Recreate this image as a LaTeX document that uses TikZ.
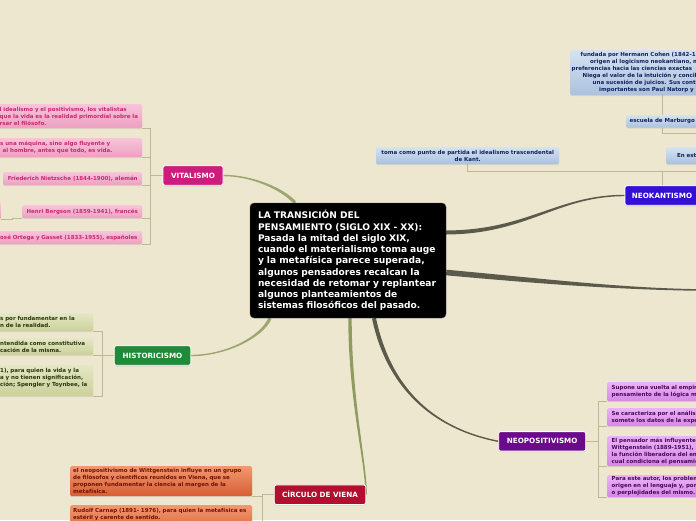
\documentclass[tikz,border=0pt]{standalone}
\usepackage{fontspec}
\setmainfont{DejaVu Sans}
\usetikzlibrary{calc,shadows}
\definecolor{bgc}{RGB}{238,231,208}
\definecolor{brOlive}{RGB}{158,166,112}
\definecolor{brOliveD}{RGB}{142,156,98}
\definecolor{brDark}{RGB}{92,90,74}
\definecolor{treeC}{RGB}{188,186,144}
\definecolor{vitC}{RGB}{204,28,126}
\definecolor{hisC}{RGB}{30,138,58}
\definecolor{cirC}{RGB}{178,14,46}
\definecolor{neoC}{RGB}{108,10,140}
\definecolor{nkC}{RGB}{52,16,214}
\definecolor{pinkT}{RGB}{248,196,218}
\definecolor{pinkB}{RGB}{236,160,192}
\definecolor{pinkX}{RGB}{196,44,116}
\definecolor{grnT}{RGB}{228,231,196}
\definecolor{grnB}{RGB}{202,209,154}
\definecolor{grnX}{RGB}{44,54,12}
\definecolor{orgT}{RGB}{242,152,112}
\definecolor{orgB}{RGB}{214,94,52}
\definecolor{orgX}{RGB}{112,20,2}
\definecolor{vioT}{RGB}{236,178,246}
\definecolor{vioB}{RGB}{214,136,230}
\definecolor{vioX}{RGB}{72,10,92}
\definecolor{bluT}{RGB}{212,226,242}
\definecolor{bluB}{RGB}{170,194,222}
\definecolor{bluX}{RGB}{20,34,90}
\pgfdeclarelayer{bg}
\pgfdeclarelayer{links}
\pgfsetlayers{bg,links,main}
\newcommand{\taperlink}[7]{%
  \path #2 coordinate (tS) #3 coordinate (tA) #4 coordinate (tB) #5 coordinate (tE);
  \coordinate (sL) at ($(tS)!#6!90:(tA)$);
  \coordinate (sR) at ($(tS)!#6!-90:(tA)$);
  \coordinate (eL) at ($(tE)!#7!-90:(tB)$);
  \coordinate (eR) at ($(tE)!#7!90:(tB)$);
  \fill[#1] (sL) .. controls ($(tA)+(sL)-(tS)$) and ($(tB)+(eL)-(tE)$) .. (eL)
    -- (eR) .. controls ($(tB)+(eR)-(tE)$) and ($(tA)+(sR)-(tS)$) .. (sR) -- cycle;
}
\begin{document}
\begin{tikzpicture}[x=1pt,y=-1pt,
  sub/.style={rounded corners=1.5pt, inner xsep=3pt, inner ysep=0pt,
    font=\fontsize{5.5}{7}\selectfont\bfseries,
    drop shadow={shadow xshift=0pt, shadow yshift=-1pt, opacity=0.18}},
  pinkbox/.style={sub, top color=pinkT, bottom color=pinkB, text=pinkX},
  greenbox/.style={sub, top color=grnT, bottom color=grnB, text=grnX},
  orangebox/.style={sub, top color=orgT, bottom color=orgB, text=orgX},
  violetbox/.style={sub, top color=vioT, bottom color=vioB, text=vioX},
  bluebox/.style={sub, top color=bluT, bottom color=bluB, text=bluX},
  topic/.style={rounded corners=2pt, draw=white, line width=0.9pt, text=white,
    inner sep=0pt, minimum height=19.5pt, font=\fontsize{7.2}{8}\selectfont\bfseries,
    drop shadow={shadow xshift=0pt, shadow yshift=-1pt, opacity=0.3}},
  tree/.style={draw=treeC, line width=0.9pt},
]
\useasboundingbox (0,0) rectangle (696,520);
\begin{pgfonlayer}{bg}
\fill[bgc] (0,0) rectangle (696,520);
\end{pgfonlayer}
\clip (0,0) rectangle (696,520);

% central topic
\node[fill=black, rounded corners=4pt, draw=black!70, text=white, text width=180pt,
  inner xsep=8pt, minimum height=115pt, align=left,
  font=\fontsize{9.1}{11.25}\selectfont\bfseries] (c) at (348,260.5)
  {LA TRANSICIÓN DEL\\PENSAMIENTO (SIGLO XIX - XX):\\Pasada la mitad del siglo XIX,\\cuando el materialismo toma auge\\y la metafísica parece superada,\\algunos pensadores recalcan la\\necesidad de retomar y replantear\\algunos planteamientos de\\sistemas filosóficos del pasado.};

% main topics
\node[topic, fill=vitC, minimum width=60pt] (vi) at (193,175.5) {VITALISMO};
\node[topic, fill=hisC, minimum width=76.5pt] (hi) at (152.5,355.5) {HISTORICISMO};
\node[topic, fill=cirC, minimum width=91.5pt] (cv) at (320,494.7) {CÍRCULO DE VIENA};
\node[topic, fill=neoC, minimum width=87pt] (np) at (542.2,441.3) {NEOPOSITIVISMO};
\node[topic, fill=nkC, minimum width=74pt] (nk) at (662,195.5) {NEOKANTISMO};
\coordinate (rightend) at (702,290);

% vitalismo subtopics
\node[pinkbox, anchor=north west, text width=139.5pt, align=left, minimum height=24pt] (v1) at (-3.5,104)
  {l idealismo y el positivismo, los vitalistas\\que la vida es la realidad primordial sobre la\\rsar el filósofo.};
\node[pinkbox, anchor=north west, text width=139pt, align=left, minimum height=19pt] (v2) at (-3,138)
  {s una máquina, sino algo fluyente y\\\hspace*{2.5pt}al hombre, antes que todo, es vida.};
\node[pinkbox, anchor=north west, minimum width=139pt, minimum height=13pt, align=center] (v3) at (3,172)
  {Friederich Nietzsche (1844-1900), alemán};
\node[pinkbox, anchor=north east, minimum width=40pt, minimum height=17pt] (v4) at (1,202) {};
\node[pinkbox, anchor=north west, minimum width=120pt, minimum height=13pt, align=center] (v5) at (22,205)
  {Henri Bergson (1859-1941), francés};
\node[pinkbox, anchor=north west, text width=139pt, align=left, minimum height=13pt] (v6) at (-3,231)
  {osé Ortega y Gasset (1833-1955), españoles};

% historicismo subtopics
\node[greenbox, anchor=north west, text width=90pt, align=left, minimum height=18pt] (h1) at (-3,313)
  {s por fundamentar en la\\n de la realidad.};
\node[greenbox, anchor=north west, text width=90pt, align=left, minimum height=17pt] (h2) at (-3,338)
  {ntendida como constitutiva\\cación de la misma.};
\node[greenbox, anchor=north west, text width=90pt, align=left, minimum height=31pt] (h3) at (-3,365)
  {1), para quien la vida y la\\a y no tienen significación,\\ción; Spengler y Toynbee, la\\\mbox{}};

% circulo de viena subtopics
\node[orangebox, anchor=north west, text width=176pt, align=left, minimum height=30pt] (c1) at (70,466)
  {el neopositivismo de Wittgenstein influye en un grupo\\de filósofos y científicos reunidos en Viena, que se\\proponen fundamentar la ciencia al margen de la\\metafísica.};
\node[orangebox, anchor=north west, text width=176pt, align=left, minimum height=31pt] (c2) at (70,505)
  {Rudolf Carnap (1891- 1976), para quien la metafísica es\\estéril y carente de sentido.\\\mbox{}\\\mbox{}};

% neopositivismo subtopics
\node[violetbox, anchor=north west, text width=120pt, inner xsep=4.5pt, align=left, minimum height=19pt] (n1) at (607,382)
  {Supone una vuelta al empir\\pensamiento de la lógica m};
\node[violetbox, anchor=north west, text width=120pt, inner xsep=4.5pt, align=left, minimum height=18pt] (n2) at (607,408)
  {Se caracteriza por el análisi\\somete los datos de la expe};
\node[violetbox, anchor=north west, text width=120pt, inner xsep=4.5pt, align=left, minimum height=30pt] (n3) at (607,436)
  {El pensador más influyente\\Wittgenstein (1889-1951),\\la función liberadora del en\\cual condiciona el pensamie};
\node[violetbox, anchor=north west, text width=120pt, inner xsep=4.5pt, align=left, minimum height=22pt] (n4) at (607,475)
  {Para este autor, los problem\\origen en el lenguaje y, por\\o perplejidades del mismo.};

% neokantismo subtopics
\node[bluebox, anchor=north west, minimum width=183pt, minimum height=17pt, align=center] (kt) at (376,147)
  {toma como punto de partida el idealismo trascendental\\de Kant.};
\node[bluebox, anchor=north west, text width=60pt, inner xsep=11pt, minimum height=17pt, align=left] (ke) at (666,147)
  {En est};
\node[bluebox, anchor=north west, minimum width=72pt, minimum height=12.5pt, align=center] (km) at (626,115)
  {escuela de Marburgo};
\node[bluebox, anchor=north west, text width=190pt, inner xsep=1.5pt, minimum height=45pt, align=left] (kb) at (570,50)
  {\hspace*{9pt}fundada por Hermann Cohen (1842-1\\\hspace*{18.5pt}origen al logicismo neokantiano, m\\preferencias hacia las ciencias exactas\\\hspace*{11pt}Niega el valor de la intuición y concibe\\\hspace*{21pt}una sucesión de juicios. Sus contin\\\hspace*{27.5pt}importantes son Paul Natorp y Ern};

\begin{pgfonlayer}{links}
\clip (0,0) rectangle (696,520);
% branches from the central topic
\taperlink{brOlive}{([xshift=-53pt]c.north)}{(283,189)}{(252,175.5)}{(vi.east)}{1.6pt}{0.7pt}
\taperlink{brOlive}{([xshift=-78pt]c.south)}{(262,337)}{(226,355.5)}{(hi.east)}{1.6pt}{0.7pt}
\taperlink{brOliveD}{([xshift=2pt]c.south)}{(350,400)}{(366,462)}{(cv.east)}{1.7pt}{0.7pt}
\taperlink{brDark}{([xshift=26pt]c.south)}{(388,385)}{(430,428)}{(np.west)}{2pt}{0.7pt}
\taperlink{brDark}{([yshift=28pt]c.east)}{(528,232)}{(557,195.5)}{(nk.west)}{2pt}{0.7pt}
\taperlink{brDark}{([yshift=-12pt]c.east)}{(540,281)}{(620,289)}{(rightend)}{2.8pt}{0.8pt}
% subtopic trees
\foreach \n in {v1,v2,v3,v5,v6}{\draw[tree] (vi.west) -- ++(-12,0) |- (\n.south east);}
\draw[tree] (v5.south west) -- ++(-10,0) |- (v4.south east);
\foreach \n in {h1,h2,h3}{\draw[tree] (hi.west) -- ++(-11.5,0) |- (\n.south east);}
\foreach \n in {c1,c2}{\draw[tree] (cv.west) -- ++(-11,0) |- (\n.south east);}
\foreach \n in {n1,n2,n3,n4}{\draw[tree] (np.east) -- ++(12,0) |- (\n.south west);}
\draw[tree] (nk.north) -- ++(0,-14) -| (kt.south);
\draw[tree] (nk.north) -- ++(0,-14) -| (ke.south);
\draw[tree] (ke.north) -- ++(0,-14) -| (km.south);
\draw[tree] (km.north) -- (km.north |- kb.south);
\end{pgfonlayer}
\end{tikzpicture}
\end{document}
